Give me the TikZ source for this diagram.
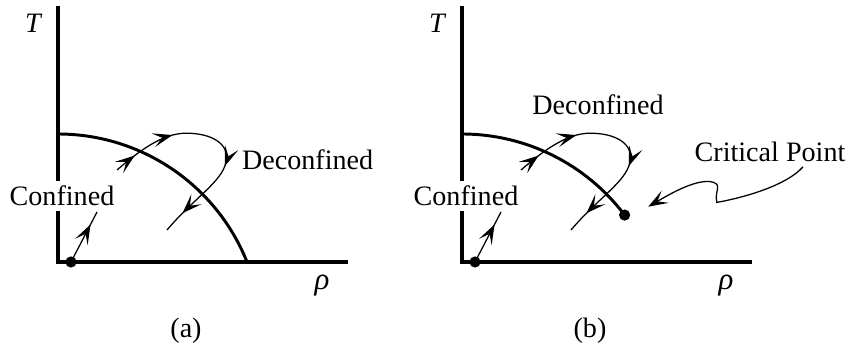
\documentclass[tikz,border=0pt]{standalone}
\usepackage{fontspec}
\setmainfont{Liberation Serif}
\usetikzlibrary{arrows.meta,decorations.markings}
\tikzset{
  axis/.style={line width=2.8pt},
  phase/.style={line width=2.1pt},
  flow/.style={line width=0.9pt},
  flowtip/.tip={Stealth[length=14pt,width=10pt,inset=6.5pt]},
  dot/.style={circle,fill,inner sep=0pt,minimum size=0.28cm},
  lbl/.style={font=\fontsize{20}{24}\selectfont},
}
\begin{document}
\begin{tikzpicture}
    \useasboundingbox (-1.45,-2.175) rectangle (19.775,6.55);
    \begin{scope}
        \draw[axis] (0,6.4) |- (7.25,0);
        \draw[phase] (0,3.2) arc[start angle=90,end angle=21.8,radius=5.09];
        \node[dot] (start) at (0.325,0) {};
        \draw[flow,postaction={decorate},decoration={markings,
            mark=at position 0.75 with {\arrow{flowtip}}}] (start.center) -- (0.975,1.25);
        \draw[flow,postaction={decorate},decoration={markings,
            mark=at position 0.1 with {\arrow{flowtip}},
            mark=at position 0.29 with {\arrow{flowtip}},
            mark=at position 0.62 with {\arrow{flowtip}},
            mark=at position 0.9 with {\arrow{flowtip}}}]
            (1.475,2.3) .. controls (2.0,2.75) and (2.6,3.22) .. (3.2,3.22)
            .. controls (3.85,3.22) and (4.3,2.95) .. (4.2,2.5)
            .. controls (4.1,2.0) and (3.4,1.6) .. (2.725,0.8);
        \node[lbl,fill=white,inner sep=0.13cm] (conf) at (0.1,1.65) {Confined};
        \node[lbl] (deconf) at (6.24,2.55) {Deconfined};
        \node[font=\fontsize{20}{24}\selectfont\itshape] (temp) at (-0.625,5.975) {T};
        \node[font=\fontsize{22}{26}\selectfont\itshape] (dens) at (6.6,-0.6) {ρ};
        \node[lbl] (capa) at (3.2,-1.725) {(a)};
    \end{scope}
    \begin{scope}[xshift=10.1cm]
        \draw[axis] (0,6.4) |- (7.25,0);
        \draw[phase] (0,3.2) arc[start angle=90,end angle=37,radius=5.09] coordinate (cpt);
        \node[dot] (cp) at (cpt) {};
        \node[dot] (start) at (0.325,0) {};
        \draw[flow,postaction={decorate},decoration={markings,
            mark=at position 0.75 with {\arrow{flowtip}}}] (start.center) -- (0.975,1.25);
        \draw[flow,postaction={decorate},decoration={markings,
            mark=at position 0.1 with {\arrow{flowtip}},
            mark=at position 0.29 with {\arrow{flowtip}},
            mark=at position 0.62 with {\arrow{flowtip}},
            mark=at position 0.9 with {\arrow{flowtip}}}]
            (1.475,2.3) .. controls (2.0,2.75) and (2.6,3.22) .. (3.2,3.22)
            .. controls (3.85,3.22) and (4.3,2.95) .. (4.2,2.5)
            .. controls (4.1,2.0) and (3.4,1.6) .. (2.725,0.8);
        \node[lbl,fill=white,inner sep=0.13cm] (conf) at (0.1,1.65) {Confined};
        \node[lbl] (deconf) at (3.4,3.925) {Deconfined};
        \node[lbl] (crit) at (7.7,2.75) {Critical Point};
        % wavy pointer to the end point
        \draw[flow,-flowtip] ([xshift=0.825cm]crit.south) .. controls (8.1,1.9) and (7.0,1.6) .. (6.37,1.49)
            .. controls (6.3,1.8) and (6.55,1.95) .. (6.2,2.01)
            .. controls (5.8,2.05) and (5.2,1.7) .. ([shift={(0.59,0.21)}]cp.center);
        \node[font=\fontsize{20}{24}\selectfont\itshape] (temp) at (-0.625,5.975) {T};
        \node[font=\fontsize{22}{26}\selectfont\itshape] (dens) at (6.6,-0.6) {ρ};
        \node[lbl] (capb) at (3.2,-1.725) {(b)};
    \end{scope}
\end{tikzpicture}
\end{document}
